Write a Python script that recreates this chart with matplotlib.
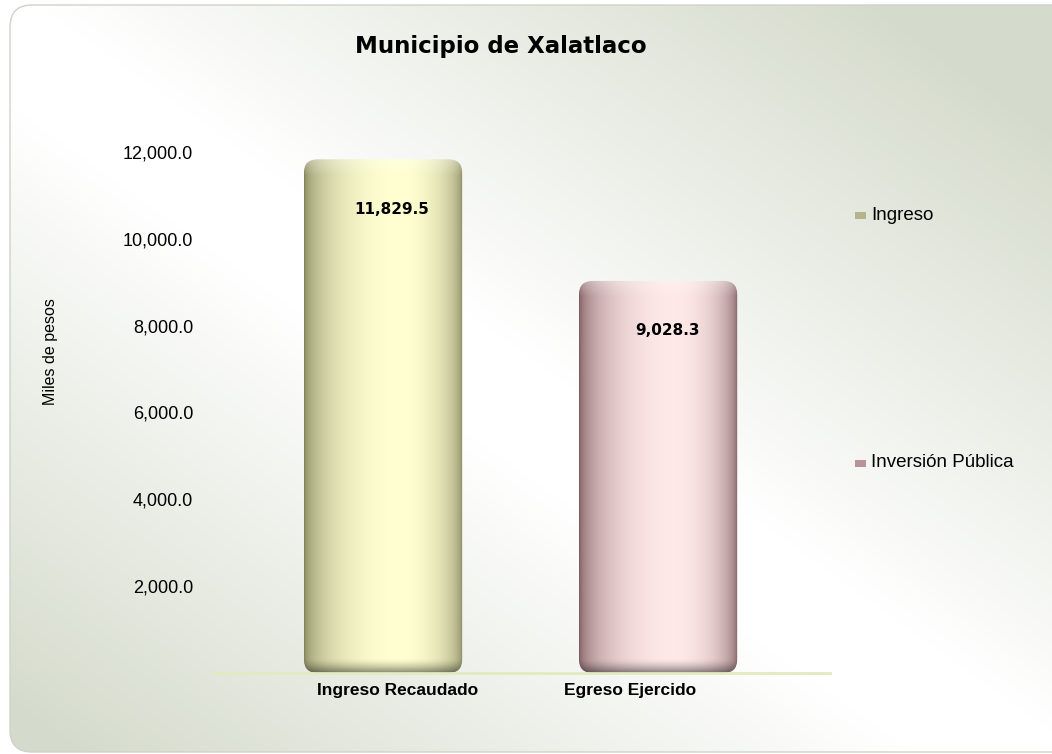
import numpy as np
import matplotlib.pyplot as plt
from matplotlib.patches import FancyBboxPatch, Rectangle

# Data
categories = ["Ingreso Recaudado", "Egreso Ejercido"]
values = [11829.5, 9028.3]
series = ["Ingreso", "Inversión Pública"]
yticks = [2000, 4000, 6000, 8000, 10000, 12000]

light_cols = [(1.0, 1.0, 0.82), (1.0, 0.91, 0.91)]
dark_cols = [(0.50, 0.50, 0.34), (0.47, 0.33, 0.35)]
legend_cols = ["#b5b58c", "#b89496"]
label_shift_px = [14, -28]  # category labels sit off the bar centres

plt.rcParams["font.family"] = ["Liberation Sans", "DejaVu Sans"]

W, H = 1052, 754
fig = plt.figure(figsize=(W / 100, H / 100), dpi=100)
fig.patch.set_facecolor("white")

# Background panel with diagonal gradient
bg = fig.add_axes([0, 0, 1, 1], zorder=-5)
bg.set_xlim(0, W)
bg.set_ylim(H, 0)
bg.axis("off")
yy, xx = np.mgrid[0:H, 0:W]
u = xx / W - yy / H
f = np.clip((np.abs(u + 0.05) - 0.08) / 0.8, 0, 1)
green = np.array([0.835, 0.86, 0.80])
img = 1 - f[..., None] * (1 - green)
im = bg.imshow(img, extent=(0, W, H, 0), aspect="auto", interpolation="bilinear")
panel = FancyBboxPatch((10, 5), W + 30, H - 7,
                       boxstyle="round,pad=0,rounding_size=22",
                       fc="none", ec="#cfd2c8", lw=1)
bg.add_patch(panel)
im.set_clip_path(panel)

# Main axes
top_px, base_px = 65, 673
ax = fig.add_axes([212 / W, 1 - base_px / H, (830 - 212) / W, (base_px - top_px) / H])
ax.patch.set_alpha(0)
x = np.arange(len(categories))
bars = ax.bar(x, values, width=0.575, color="none", edgecolor="none")
ax.set_xlim(-0.622, 1.625)
ax.set_ylim(0, 14000)
px_per_unit = (base_px - top_px) / 14000
xpx_per_unit = (830 - 212) / (1.625 + 0.622)

# Cylinder-like shading for each bar
for bar, lc, dc in zip(bars, light_cols, dark_cols):
    x0, w, h = bar.get_x(), bar.get_width(), bar.get_height()
    nr, nc = 500, 240
    t = np.linspace(0, 1, nc)
    c = 0.6
    d = np.where(t < c, (t - c) / c, (t - c) / (1 - c))
    s = np.sqrt(np.clip(1 - d ** 2, 0, 1))
    lc_, dc_ = np.array(lc), np.array(dc)
    row = dc_ + s[:, None] * (lc_ - dc_)
    hp = h * px_per_unit
    ypx = np.linspace(hp, 0, nr)
    kb = np.clip((14 - ypx) / 14, 0, 1) ** 1.5 * 0.45
    kt = np.clip((16 - (hp - ypx)) / 16, 0, 1)
    col = row[None, :, :] * (1 - kb[:, None, None])
    col = col + (1 - col) * (kt[:, None, None] * 0.3)
    bim = ax.imshow(col, extent=(x0, x0 + w, 0, h), aspect="auto",
                    interpolation="bilinear", zorder=2)
    rx = 14 / xpx_per_unit
    clip = FancyBboxPatch((x0, 0), w, h,
                          boxstyle=f"round,pad=0,rounding_size={rx}",
                          mutation_aspect=(13 / px_per_unit) / rx,
                          fc="none", ec="none")
    ax.add_patch(clip)
    bim.set_clip_path(clip)

ax.set_xlim(-0.622, 1.625)
ax.set_ylim(0, 14000)

# Value labels
for xi, v in zip(x, values):
    ax.annotate(f"{v:,.1f}", (xi, v), xytext=(6.5, -36), textcoords="offset points",
                ha="center", va="center", fontsize=11, fontweight="bold",
                family="DejaVu Sans", zorder=5)

# Axes styling
for sp in ["top", "right", "left"]:
    ax.spines[sp].set_visible(False)
ax.spines["bottom"].set_color("#e2eac0")
ax.spines["bottom"].set_linewidth(2)
ax.set_yticks(yticks)
ax.set_yticklabels([f"{v:,.1f}" for v in yticks])
ax.tick_params(axis="y", length=0, pad=13.5, labelsize=13)
ax.set_xticks(x + np.array(label_shift_px) / xpx_per_unit)
ax.set_xticklabels(categories, fontweight="bold")
ax.tick_params(axis="x", length=0, pad=7, labelsize=12.5)

# Title and y label
fig.text(501 / W, 1 - 47 / H, "Municipio de Xalatlaco", ha="center", va="center",
         fontsize=16.5, fontweight="bold", family="DejaVu Sans")
fig.text(50 / W, 1 - 352 / H, "Miles de pesos", rotation=90, ha="center", va="center",
         fontsize=11.5)

# Legend
leg_y = [215, 463]
for name, lcol, ly in zip(series, legend_cols, leg_y):
    fig.patches.append(Rectangle((855 / W, 1 - (ly + 4) / H), 11 / W, 7 / H,
                                 transform=fig.transFigure, fc=lcol, ec="none"))
    fig.text(871 / W, 1 - ly / H, name, ha="left", va="center", fontsize=13.5)

plt.savefig("out.png", dpi=100)
